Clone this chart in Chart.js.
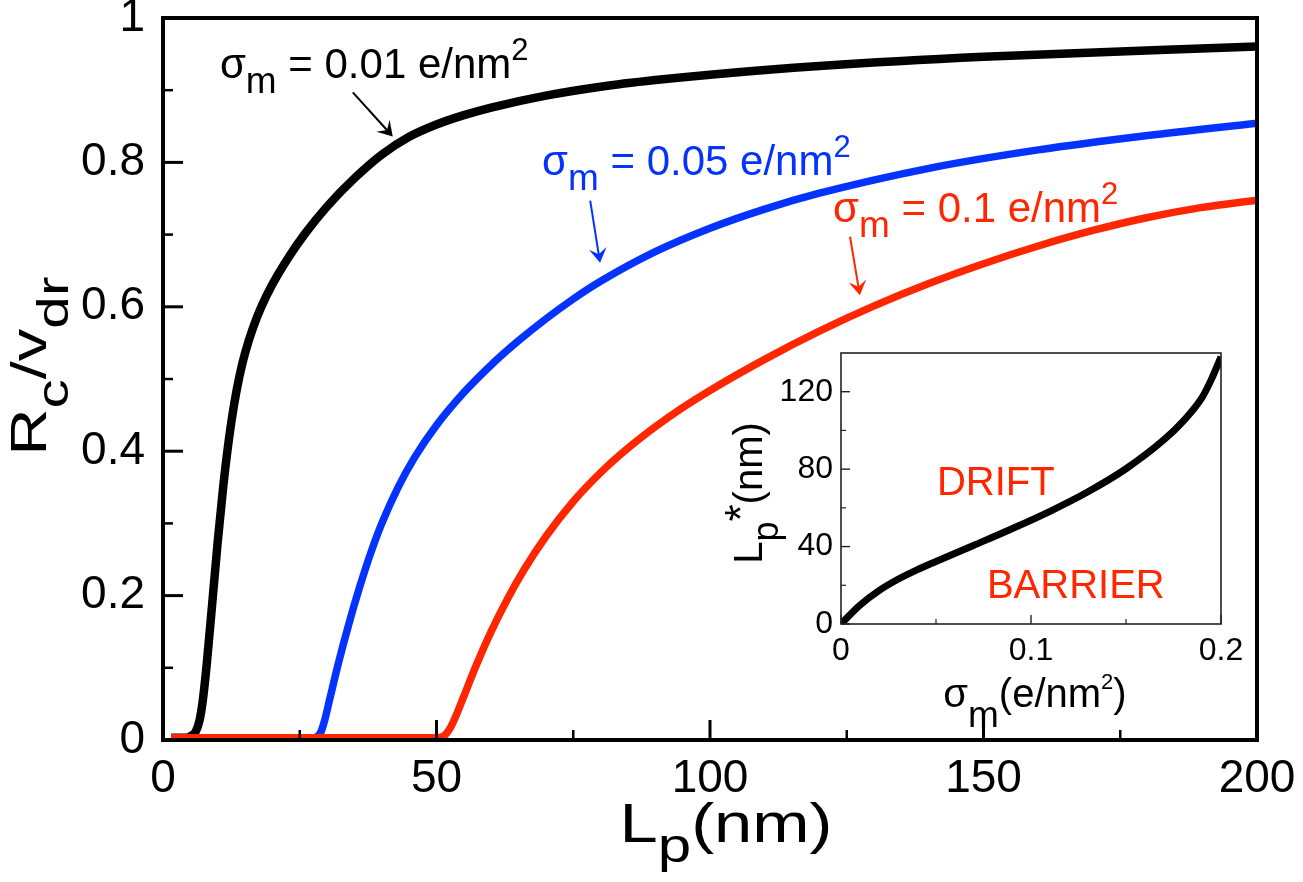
<!DOCTYPE html>
<html lang="en">
<head>
<meta charset="UTF-8">
<title>Rc/vdr vs Lp</title>
<script src="https://cdn.jsdelivr.net/npm/chart.js"></script>
<style>
  body { margin: 0; background: #fff; }
  #wrap { position: relative; width: 1303px; height: 882px; }
  #wrap canvas { position: absolute; }
</style>
</head>
<body>
<div id="wrap">
  <canvas id="mainChart" width="1303" height="882" style="left:0;top:0;"></canvas>
  <canvas id="insetChart" width="550" height="390" style="left:700px;top:340px;"></canvas>
</div>
<script>
const FONT = "'Liberation Sans', Arial, Helvetica, sans-serif";
const BLUE = '#0433ff';
const RED = '#ff2600';

// main panel, sigma_m = 0.01 / 0.05 / 0.1 e/nm2
const lpBlack = [1.5, 4, 5, 6, 6.7, 7.3, 8, 9, 10, 11, 12, 13, 14, 15, 16.5, 18, 20, 23, 26, 30, 35, 40, 45, 50, 55, 60, 70, 80, 90, 100, 120, 150, 200];
const rcBlack = [0.003, 0.003, 0.005, 0.012, 0.0278, 0.0563, 0.1053, 0.1893, 0.2743, 0.3503, 0.4138, 0.4648, 0.5048, 0.5358, 0.5718, 0.6003, 0.6311, 0.669, 0.7017, 0.739, 0.778, 0.8108, 0.8355, 0.8525, 0.8655, 0.876, 0.8925, 0.9048, 0.914, 0.9215, 0.9335, 0.9463, 0.9605];

const lpBlue = [1.5, 27, 28, 28.8, 29.5, 30.5, 32, 34, 36, 38, 40, 43, 46, 50, 55, 60, 65, 70, 75, 80, 90, 100, 110, 120, 140, 160, 180, 200];
const rcBlue = [0.003, 0.003, 0.004, 0.010, 0.0258, 0.0573, 0.1045, 0.1615, 0.213, 0.2595, 0.3, 0.3503, 0.3914, 0.436, 0.4813, 0.5195, 0.553, 0.5833, 0.6108, 0.6353, 0.6763, 0.7088, 0.7353, 0.7573, 0.7918, 0.8173, 0.8373, 0.8543];

const lpRed = [1.5, 49.5, 50.5, 51.5, 52.5, 53.5, 55, 57, 60, 63, 66, 70, 75, 80, 85, 90, 95, 100, 110, 120, 130, 140, 150, 160, 170, 180, 190, 200];
const rcRed = [0.003, 0.003, 0.0035, 0.0065, 0.0165, 0.0325, 0.0606, 0.0986, 0.1504, 0.1957, 0.2357, 0.2819, 0.3304, 0.3704, 0.4042, 0.4339, 0.4604, 0.4842, 0.5272, 0.5662, 0.6012, 0.6322, 0.6597, 0.6842, 0.7057, 0.7237, 0.7377, 0.7477];

const xTicks = [0, 50, 100, 150, 200];
const xMinor = [25, 75, 125, 175];
const yTicks = [0, 0.2, 0.4, 0.6, 0.8, 1];
const yMinor = [0.1, 0.3, 0.5, 0.7, 0.9];

// inset: critical Lp* vs sigma_m
const sigma = [0, 0.01, 0.02, 0.03, 0.04, 0.05, 0.07, 0.09, 0.11, 0.13, 0.15, 0.17, 0.18, 0.19, 0.195, 0.2];
const lpStar = [0, 9.75, 17.25, 23.1, 27.95, 32.3, 40.7, 49.2, 58.2, 68.3, 80.2, 95.2, 104.7, 116.95, 126.5, 138];

const inXTicks = [0, 0.1, 0.2];
const inXMinor = [0.05, 0.15];
const inYTicks = [0, 40, 80, 120];
const inYMinor = [20, 60, 100];

// labels with arrows, anchored in data units
const notes = [
  { x: 10.4, y: 0.917, color: '#000', parts: [['σ', ''], ['m', 'sub'], [' = 0.01 e/nm', ''], ['2', 'sup']], arrow: [34.7, 0.897, 42.0, 0.836] },
  { x: 69.3, y: 0.7825, color: BLUE, parts: [['σ', ''], ['m', 'sub'], [' = 0.05 e/nm', ''], ['2', 'sup']], arrow: [78.1, 0.747, 79.9, 0.661] },
  { x: 122.5, y: 0.7175, color: RED, parts: [['σ', ''], ['m', 'sub'], [' = 0.1 e/nm', ''], ['2', 'sup']], arrow: [125.6, 0.697, 127.4, 0.616] }
];

function pts(xs, ys) {
  return xs.map((v, i) => ({ x: v, y: ys[i] }));
}

function fontOf(role, st) {
  const s = role === 'sub' ? st.sub : role === 'sup' ? st.sup : st.size;
  return s + 'px ' + FONT;
}

// text with sub/superscripts; st.stretch widens glyphs horizontally
function drawRich(ctx, parts, x, y, st, align) {
  const k = st.stretch || 1;
  let w = 0;
  parts.forEach(([t, r]) => { ctx.font = fontOf(r, st); w += ctx.measureText(t).width; });
  ctx.save();
  ctx.translate(align === 'center' ? x - w * k / 2 : x, y);
  ctx.scale(k, 1);
  ctx.textAlign = 'left';
  ctx.textBaseline = 'alphabetic';
  let cx = 0;
  parts.forEach(([t, r]) => {
    ctx.font = fontOf(r, st);
    const dy = r === 'sub' ? st.drop : r === 'sup' ? -st.rise : 0;
    ctx.fillText(t, cx, dy);
    cx += ctx.measureText(t).width;
  });
  ctx.restore();
}

function drawArrow(ctx, x1, y1, x2, y2, color) {
  const a = Math.atan2(y2 - y1, x2 - x1);
  const L = 17;
  ctx.strokeStyle = color;
  ctx.fillStyle = color;
  ctx.lineWidth = 2;
  ctx.beginPath();
  ctx.moveTo(x1, y1);
  ctx.lineTo(x2 - Math.cos(a) * 6, y2 - Math.sin(a) * 6);
  ctx.stroke();
  ctx.beginPath();
  ctx.moveTo(x2, y2);
  ctx.lineTo(x2 - L * Math.cos(a - 0.55), y2 - L * Math.sin(a - 0.55));
  ctx.lineTo(x2 - 0.5 * L * Math.cos(a), y2 - 0.5 * L * Math.sin(a));
  ctx.lineTo(x2 - L * Math.cos(a + 0.55), y2 - L * Math.sin(a + 0.55));
  ctx.closePath();
  ctx.fill();
}

// frame box + inward ticks on the left and bottom axes
function drawFrame(chart, cfg) {
  const { ctx, chartArea: a } = chart;
  const sx = chart.scales.x, sy = chart.scales.y;
  ctx.save();
  ctx.strokeStyle = cfg.color;
  ctx.lineCap = 'butt';
  const tick = (x1, y1, x2, y2, w) => {
    ctx.lineWidth = w;
    ctx.beginPath(); ctx.moveTo(x1, y1); ctx.lineTo(x2, y2); ctx.stroke();
  };
  cfg.xMajor.forEach(v => { const p = sx.getPixelForValue(v); tick(p, a.bottom, p, a.bottom - cfg.majLen, cfg.majW); });
  cfg.xMinor.forEach(v => { const p = sx.getPixelForValue(v); tick(p, a.bottom, p, a.bottom - cfg.minLen, cfg.minW); });
  cfg.yMajor.forEach(v => { const p = sy.getPixelForValue(v); tick(a.left, p, a.left + cfg.majLen, p, cfg.majW); });
  cfg.yMinor.forEach(v => { const p = sy.getPixelForValue(v); tick(a.left, p, a.left + cfg.minLen, p, cfg.minW); });
  ctx.lineWidth = cfg.frameW;
  ctx.strokeRect(a.left, a.top, a.right - a.left, a.bottom - a.top);
  ctx.restore();
}

// keep the plot box where it is, whatever the tick labels overhang
function noPad(s) {
  s.paddingLeft = 0; s.paddingRight = 0; s.paddingTop = 0; s.paddingBottom = 0;
}

const mainDecor = {
  id: 'mainDecor',
  afterDraw(chart) {
    const ctx = chart.ctx;
    const sx = chart.scales.x, sy = chart.scales.y;
    drawFrame(chart, { color: '#000', majLen: 20, minLen: 10, majW: 3, minW: 2.5, frameW: 4,
      xMajor: xTicks, xMinor: xMinor, yMajor: yTicks, yMinor: yMinor });

    ctx.save();
    ctx.fillStyle = '#000';
    // x title
    drawRich(ctx, [['L', ''], ['p', 'sub'], ['(nm)', '']], 726, 842,
      { size: 55, sub: 48, sup: 30, drop: 20, rise: 18, stretch: 1.25 }, 'center');
    // y title (rotated)
    ctx.translate(46, 366);
    ctx.rotate(-Math.PI / 2);
    drawRich(ctx, [['R', ''], ['c', 'sub'], ['/v', ''], ['dr', 'sub']], 0, 0,
      { size: 50, sub: 45, sup: 30, drop: 22, rise: 18, stretch: 1.3 }, 'center');
    ctx.restore();

    ctx.save();
    notes.forEach(n => {
      ctx.fillStyle = n.color;
      drawRich(ctx, n.parts, sx.getPixelForValue(n.x), sy.getPixelForValue(n.y),
        { size: 42, sub: 37, sup: 31, drop: 15, rise: 18 }, 'left');
      const [ax1, ay1, ax2, ay2] = n.arrow;
      drawArrow(ctx, sx.getPixelForValue(ax1), sy.getPixelForValue(ay1),
        sx.getPixelForValue(ax2), sy.getPixelForValue(ay2), n.color);
    });
    ctx.restore();
  }
};

const lineStyle = { showLine: true, pointRadius: 0, fill: false, cubicInterpolationMode: 'monotone' };

new Chart(document.getElementById('mainChart'), {
  type: 'scatter',
  data: {
    datasets: [
      // higher order is painted first, so red ends up on top along the baseline
      Object.assign({ data: pts(lpBlack, rcBlack), borderColor: '#000', borderWidth: 8.5, order: 2 }, lineStyle),
      Object.assign({ data: pts(lpBlue, rcBlue), borderColor: BLUE, borderWidth: 7.5, order: 1 }, lineStyle),
      Object.assign({ data: pts(lpRed, rcRed), borderColor: RED, borderWidth: 7.5, order: 0 }, lineStyle)
    ]
  },
  options: {
    responsive: false,
    animation: false,
    layout: { padding: { top: 18, right: 46, left: 0, bottom: 0 } },
    plugins: { legend: { display: false }, tooltip: { enabled: false } },
    scales: {
      x: {
        type: 'linear', min: 0, max: 200,
        grid: { display: false, drawTicks: false },
        border: { display: false },
        afterBuildTicks: s => { s.ticks = xTicks.map(v => ({ value: v })); },
        ticks: { color: '#000', font: { family: FONT, size: 46 }, padding: 12, maxRotation: 0, autoSkip: false },
        afterFit: s => { s.height = 142; noPad(s); }
      },
      y: {
        type: 'linear', min: 0, max: 1,
        grid: { display: false, drawTicks: false },
        border: { display: false },
        afterBuildTicks: s => { s.ticks = yTicks.map(v => ({ value: v })); },
        ticks: { color: '#000', font: { family: FONT, size: 46 }, padding: 18, autoSkip: false,
          callback: v => String(Math.round(v * 10) / 10) },
        afterFit: s => { s.width = 163; noPad(s); }
      }
    }
  },
  plugins: [mainDecor]
});

const insetDecor = {
  id: 'insetDecor',
  beforeDatasetsDraw(chart) {
    const { ctx, chartArea: a } = chart;
    ctx.save();
    ctx.fillStyle = '#fff';
    ctx.fillRect(a.left, a.top, a.right - a.left, a.bottom - a.top);
    ctx.restore();
  },
  afterDraw(chart) {
    const ctx = chart.ctx;
    const sx = chart.scales.x, sy = chart.scales.y;
    drawFrame(chart, { color: '#222', majLen: 9, minLen: 5, majW: 1.4, minW: 1.2, frameW: 1.6,
      xMajor: inXTicks, xMinor: inXMinor, yMajor: inYTicks, yMinor: inYMinor });

    ctx.save();
    ctx.fillStyle = RED;
    ctx.font = '40px ' + FONT;
    ctx.textAlign = 'left';
    ctx.textBaseline = 'alphabetic';
    ctx.fillText('DRIFT', sx.getPixelForValue(0.0505), sy.getPixelForValue(66.6));
    ctx.fillText('BARRIER', sx.getPixelForValue(0.0768), sy.getPixelForValue(13.4));

    ctx.fillStyle = '#000';
    drawRich(ctx, [['σ', ''], ['m', 'sub'], ['(e/nm', ''], ['2', 'sup'], [')', '']], 335, 367,
      { size: 40, sub: 37, sup: 22, drop: 20, rise: 18 }, 'center');
    ctx.translate(62, 153);
    ctx.rotate(-Math.PI / 2);
    drawRich(ctx, [['L', ''], ['p', 'sub'], ['*', 'sup'], ['(nm)', '']], 0, 0,
      { size: 40, sub: 36, sup: 44, drop: 16, rise: 6 }, 'center');
    ctx.restore();
  }
};

new Chart(document.getElementById('insetChart'), {
  type: 'scatter',
  data: {
    datasets: [
      Object.assign({ data: pts(sigma, lpStar), borderColor: '#000', borderWidth: 7 }, lineStyle)
    ]
  },
  options: {
    responsive: false,
    animation: false,
    layout: { padding: { top: 13, right: 29, left: 0, bottom: 0 } },
    plugins: { legend: { display: false }, tooltip: { enabled: false } },
    scales: {
      x: {
        type: 'linear', min: 0, max: 0.2,
        grid: { display: false, drawTicks: false },
        border: { display: false },
        afterBuildTicks: s => { s.ticks = inXTicks.map(v => ({ value: v })); },
        ticks: { color: '#000', font: { family: FONT, size: 32 }, padding: 8, maxRotation: 0, autoSkip: false,
          callback: v => String(Math.round(v * 10) / 10) },
        afterFit: s => { s.height = 106; noPad(s); }
      },
      y: {
        type: 'linear', min: 0, max: 140,
        grid: { display: false, drawTicks: false },
        border: { display: false },
        afterBuildTicks: s => { s.ticks = inYTicks.map(v => ({ value: v })); },
        ticks: { color: '#000', font: { family: FONT, size: 32 }, padding: 8, autoSkip: false },
        afterFit: s => { s.width = 141; noPad(s); }
      }
    }
  },
  plugins: [insetDecor]
});
</script>
</body>
</html>
